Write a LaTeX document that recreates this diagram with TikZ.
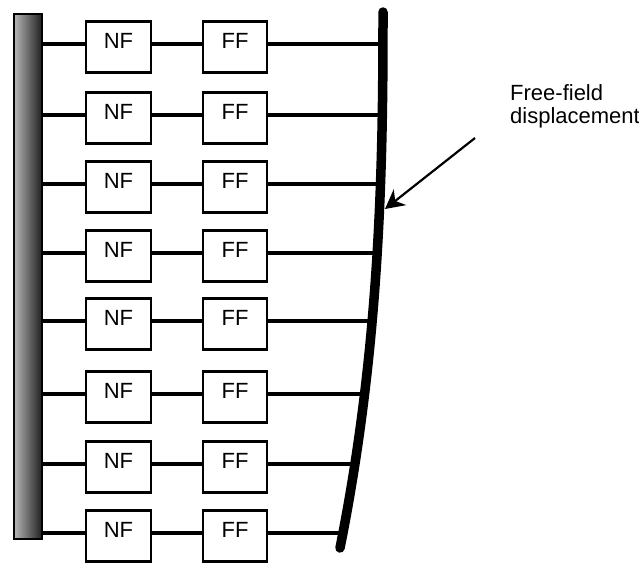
\documentclass[tikz,border=0pt]{standalone}
\usepackage{fontspec}
\setmainfont{Liberation Sans}
\usetikzlibrary{arrows.meta,calc}
\begin{document}
\begin{tikzpicture}[x=1pt,y=-1pt,
  lbl/.style={font=\fontsize{22}{23.3}\selectfont},
  cell/.style={draw, line width=2.3pt, fill=white, lbl,
    minimum width=64.5pt, inner xsep=0pt, inner ysep=0pt,
    text height=27.3pt, text depth=23.5pt, anchor=base},
  link/.style={line width=4.5pt},
  pile/.style={draw, line width=1.6pt, rectangle, inner sep=0pt,
    minimum width=28.5pt, minimum height=525.5pt,
    left color=black!28, right color=black!88},
  ground/.style={line width=9.5pt, line cap=round},
  pointer/.style={line width=2.2pt,
    -{Stealth[length=19pt, width=20pt, inset=6pt]}}
]
\useasboundingbox (0,0) rectangle (639,565);

% pile on the left
\node[pile] (pile) at (28,276.5) {};

% near-field / far-field springs, one row per layer
\foreach \i/\r in {1/44,2/115,3/184,4/253,5/321,6/394,7/464,8/533}{
  \coordinate (row\i) at (0,\r);
  \node[cell] (nf\i) at (118.5,\r+4.9) {NF};
  \node[cell] (ff\i) at (235,\r+4.9) {FF};
  \coordinate (d\i) at ({383-43*((\r-12)/536)^2*sqrt((\r-12)/536)},\r);
  \draw[link] (pile.east |- row\i) -- (nf\i.west |- row\i);
  \draw[link] (nf\i.east |- row\i) -- (ff\i.west |- row\i);
  \draw[link] (ff\i.east |- row\i) -- (d\i);
}

% free-field displacement profile
\draw[ground] plot[domain=12:548, samples=80, smooth]
  ({383-43*((\x-12)/536)^2*sqrt((\x-12)/536)}, \x);

% label and pointer
\node[lbl, anchor=base west, align=left, inner sep=0pt] (ffd) at (510,123.3)
  {Free-field\\displacement};
\coordinate (tail) at (475,138);
\coordinate (tip) at (385,209);
\draw[pointer] (tail) -- (tip);
\end{tikzpicture}
\end{document}
